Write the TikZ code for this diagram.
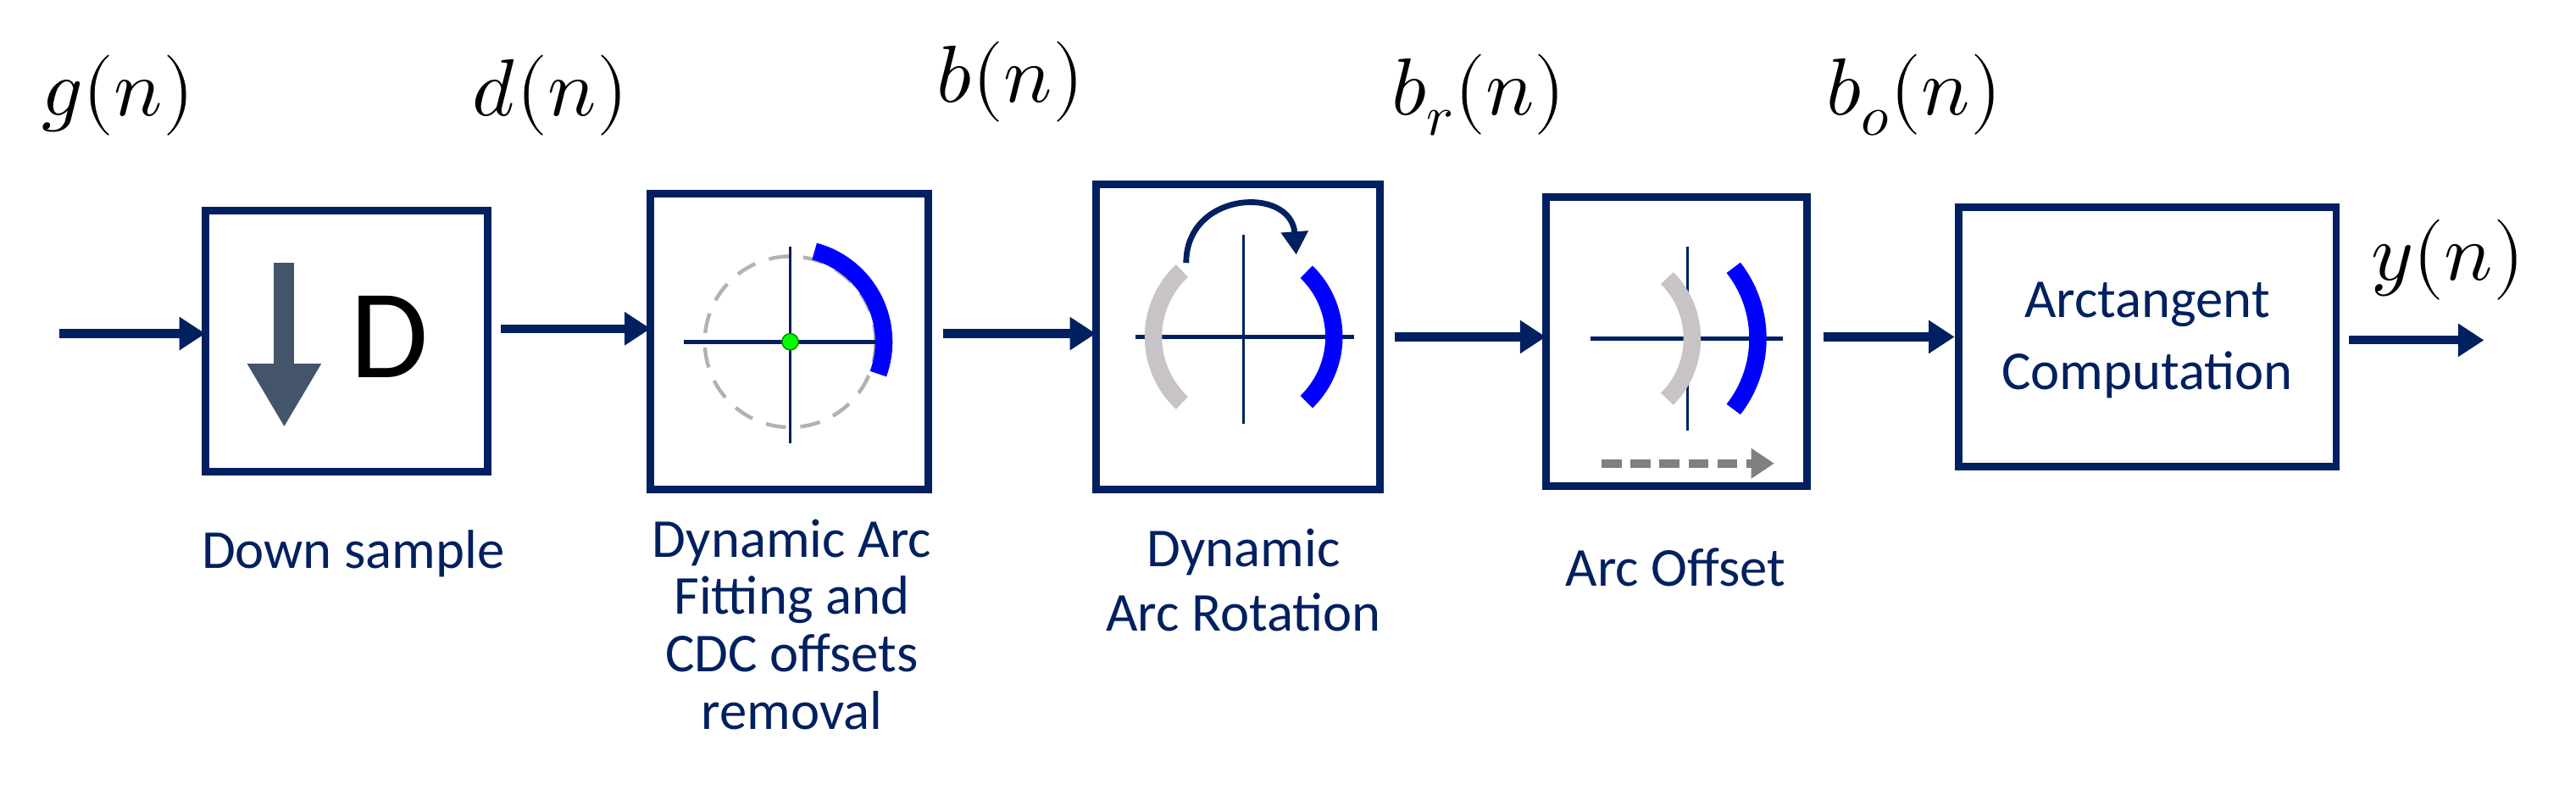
\documentclass[tikz,border=0pt]{standalone}
\usepackage{fontspec}
\setmainfont{Carlito}
\usepackage{unicode-math}
\setmathfont{Latin Modern Math}
\usetikzlibrary{arrows.meta}
\definecolor{navy}{RGB}{0,32,96}
\definecolor{slate}{RGB}{68,84,106}
\definecolor{lgray}{RGB}{200,195,198}
\begin{document}
\begin{tikzpicture}[x=0.02cm,y=-0.02cm,
  blk/.style={draw=navy,line width=2.6pt,minimum width=0pt},
  flow/.style={navy,line width=3pt,-{Triangle[length=9pt,width=11pt]}},
  lab/.style={text=navy,font=\fontsize{19}{20}\selectfont,align=center},
  sig/.style={font=\fontsize{28}{30}\selectfont},
  axis/.style={navy,line width=0.8pt},
  haxis/.style={navy,line width=1.6pt},
  garc/.style={lgray,line width=6pt},
  barc/.style={blue,line width=6pt}]
\useasboundingbox (0,0) rectangle (1568,494);
% boxes
\draw[blk] (125,128) rectangle (297,287); \coordinate (b1w) at (125,203);
\draw[blk] (396,118) rectangle (565,298); \coordinate (b2w) at (396,200);
\draw[blk] (667,112) rectangle (840,298); \coordinate (b3w) at (667,203);
\draw[blk] (941,120) rectangle (1100,296); \coordinate (b4w) at (941,205);
\node[blk,minimum width=4.6cm,minimum height=3.16cm,inner sep=0pt] (b5) at (1307,205) {};
\node[lab,font=\fontsize{19}{25}\selectfont] (t5) at (1307,207) {Arctangent\\Computation};
% connectors
\coordinate (in) at (36,203);
\coordinate (out) at (1512,207);
\draw[flow] (in) -- (b1w);
\draw[flow] (305,200) -- (b2w);
\draw[flow] (574,203) -- (b3w);
\draw[flow] (849,205) -- (b4w);
\draw[flow] (1110,205) -- (b5.west |- 0,205);
\draw[flow] (1430,207) -- (out);
% signals
\node[sig] (g) at (72,58) {$g(n)$};
\node[sig] (d) at (335,58) {$d(n)$};
\node[sig] (b) at (615,50) {$b(n)$};
\node[sig] (br) at (900,58) {$b_r(n)$};
\node[sig] (bo) at (1165,58) {$b_o(n)$};
\node[sig] (y) at (1490,158) {$y(n)$};
% labels
\node[lab] (l1) at (215,337) {Down sample};
\node[lab,font=\fontsize{19}{19.9}\selectfont] (l2) at (482,380) {Dynamic Arc\\Fitting and\\CDC offsets\\removal};
\node[lab,font=\fontsize{19}{22.5}\selectfont] (l3) at (757,353) {Dynamic\\Arc Rotation};
\node[lab] (l4) at (1020,345) {Arc Offset};
% box1 content
\draw[slate,line width=7pt,-{Triangle[length=22pt,width=24pt]}] (173,160) -- (173,260);
\node[font=\fontsize{44}{44}\selectfont] (D) at (237,205) {D};
% box2 content
\draw[gray!60,line width=1.3pt,dash pattern=on 7pt off 5pt] (481,208) circle (52);
\draw[axis] (481,150) -- (481,270);
\draw[haxis] (416,208) -- (543,208);
\draw[barc] (481,208) ++(-75:57) arc (-75:20:57);
\fill[green,draw=green!50!black,line width=0.4pt] (481,208) circle (5);
% box3 content
\draw[axis] (757,143) -- (757,258);
\draw[haxis] (691,205) -- (824,205);
\draw[garc] (757,205) ++(227:55) arc (227:133:55);
\draw[barc] (757,205) ++(-46:55) arc (-46:46:55);
\draw[navy,line width=2pt,-{Triangle[length=8pt,width=9pt]}] (722,160) .. controls (722,116) and (786,113) .. (789,155);
% box4 content
\draw[axis] (1027,150) -- (1027,262);
\draw[haxis] (968,206) -- (1085,206);
\draw[garc] (978,206) ++(-45:52) arc (-45:45:52);
\draw[barc] (1000,206) ++(-38:70) arc (-38:38:70);
\draw[gray,line width=3pt,dash pattern=on 7pt off 3pt,-{Triangle[length=8pt,width=10pt]}] (975,282) -- (1080,282);
\end{tikzpicture}
\end{document}
